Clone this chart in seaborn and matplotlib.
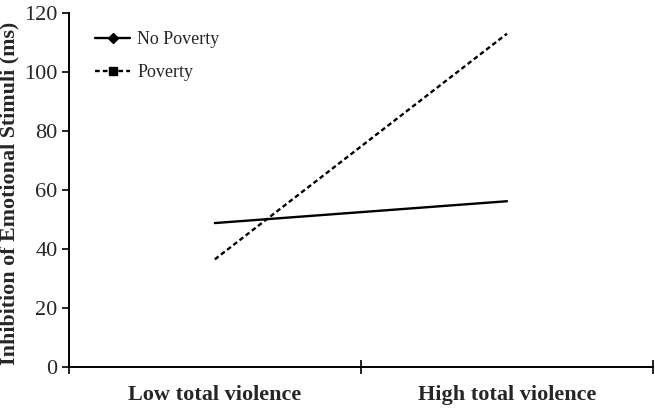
import seaborn as sns
import numpy as np
import matplotlib.pyplot as plt
import pandas as pd
from matplotlib.lines import Line2D

" DATA "
categories = ['Low total violence', 'High total violence']
no_poverty = [48.8, 56.2]
poverty = [36.5, 113.0]
y_ticks = [0, 20, 40, 60, 80, 100, 120]

sns.set_theme(style='ticks')
plt.rcParams['font.family'] = ['Liberation Serif', 'DejaVu Serif']

df = pd.DataFrame({
    'violence': categories * 2,
    'group': ['No Poverty'] * 2 + ['Poverty'] * 2,
    'value': no_poverty + poverty,
})

DASH = (2.0, 1.3)

fig = plt.figure(figsize=(6.55, 4.13), dpi=100)
ax = fig.add_axes([0.105, 0.1114, 0.892, 0.857])
sns.lineplot(data=df, x='violence', y='value', style='group',
             dashes={'No Poverty': '', 'Poverty': DASH},
             color='black', linewidth=1.7, legend=False, ax=ax)

ax.set_xlim(-0.5, 1.5)
ax.set_ylim(0, 120)
ax.set_yticks(y_ticks)
ax.set_xticks([0, 1])
ax.set_xticklabels(categories, fontsize=16, fontweight='bold')
ax.set_xticks([-0.5, 0.5, 1.5], minor=True)
ax.tick_params(axis='x', which='major', length=0, pad=13)
ax.tick_params(axis='x', which='minor', direction='inout', length=10, width=1.2, color='black')
ax.tick_params(axis='y', labelsize=16, length=5, width=1.2, color='black', pad=3)
ax.set_xlabel('')
ax.set_ylabel('Inhibition of Emotional Stimuli (ms)', fontsize=15.8, fontweight='bold')
ax.yaxis.set_label_coords(-0.084, 0.49)
for s in ['top', 'right']:
    ax.spines[s].set_visible(False)
for s in ['left', 'bottom']:
    ax.spines[s].set_linewidth(1.4)
    ax.spines[s].set_color('black')

handles = [
    Line2D([], [], color='black', linewidth=1.7, marker='D', markersize=5),
    Line2D([], [], color='black', linewidth=1.7, linestyle=(0, DASH), marker='s', markersize=6),
]
ax.legend(handles, ['No Poverty', 'Poverty'], loc='upper left', bbox_to_anchor=(0.0325, 0.969),
          borderaxespad=0, frameon=False, fontsize=13, handlelength=1.95,
          handletextpad=0.4, labelspacing=0.9)

plt.savefig('out.png', dpi=100)
